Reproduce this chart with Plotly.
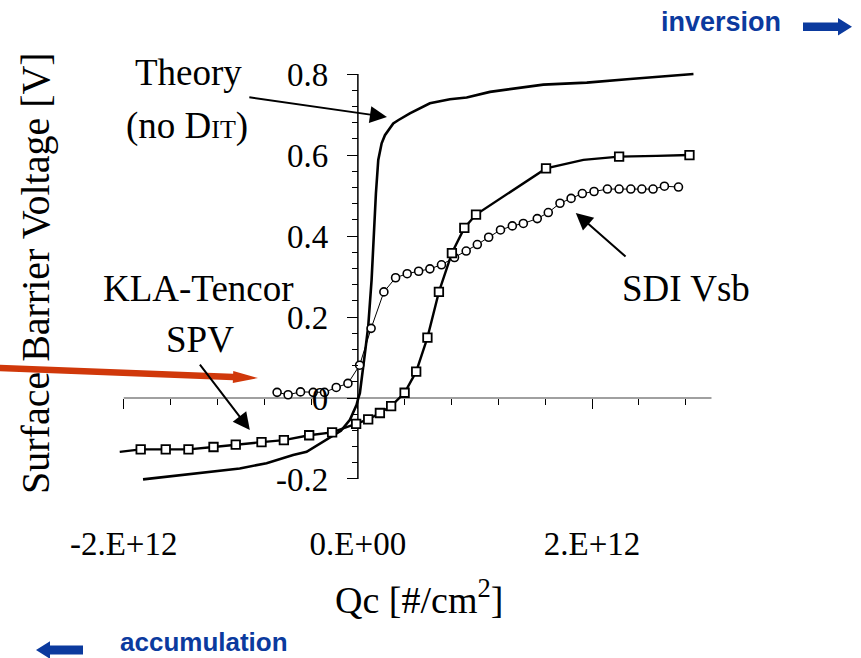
import math
import plotly.graph_objects as go

# ---------------- data ----------------
# Theory curve (no interface traps)
THEORY_Q = [-1.835e12, -1.009e12, -0.780e12, -0.553e12, -0.438e12, -0.297e12, -0.145e12,
            -0.068e12, -0.011e12, 0.003e12, 0.017e12, 0.060e12, 0.088e12, 0.117e12,
            0.131e12, 0.145e12, 0.154e12, 0.174e12, 0.203e12, 0.231e12, 0.302e12,
            0.344e12, 0.444e12, 0.615e12, 0.786e12, 0.929e12, 1.128e12, 1.584e12,
            1.955e12, 2.325e12, 2.866e12]
THEORY_V = [-0.201, -0.174, -0.161, -0.141, -0.133, -0.109, -0.081,
            -0.054, -0.017, -0.001, 0.012, 0.110, 0.176, 0.291,
            0.374, 0.423, 0.505, 0.588, 0.629, 0.649, 0.678,
            0.686, 0.703, 0.728, 0.738, 0.742, 0.756, 0.774,
            0.779, 0.788, 0.800]

# KLA-Tencor SPV: measured points (squares)
KLA_Q = [-1.855e12, -1.641e12, -1.447e12, -1.233e12, -1.043e12, -0.823e12, -0.632e12,
         -0.416e12, -0.220e12, -0.015e12, 0.088e12, 0.188e12, 0.284e12, 0.399e12,
         0.498e12, 0.594e12, 0.692e12, 0.803e12, 0.909e12, 1.009e12, 1.607e12,
         2.231e12, 2.832e12]
KLA_V = [-0.127, -0.127, -0.127, -0.121, -0.115, -0.109, -0.104,
         -0.092, -0.085, -0.064, -0.053, -0.037, -0.020, 0.013,
         0.065, 0.149, 0.262, 0.358, 0.420, 0.453, 0.567,
         0.596, 0.600]
# KLA-Tencor SPV: connecting curve
KLA_CURVE_Q = [-2.034e12] + KLA_Q[:21] + [1.926e12, 2.231e12, 2.553e12, 2.832e12]
KLA_CURVE_V = [-0.133] + KLA_V[:21] + [0.588, 0.596, 0.598, 0.600]

# SDI Vsb (circles)
SDI_Q = [-0.690e12, -0.596e12, -0.490e12, -0.382e12, -0.285e12, -0.185e12, -0.085e12,
         0.015e12, 0.113e12, 0.222e12, 0.322e12, 0.421e12, 0.519e12, 0.615e12,
         0.714e12, 0.825e12, 0.925e12, 1.020e12, 1.117e12, 1.218e12, 1.319e12,
         1.413e12, 1.532e12, 1.626e12, 1.726e12, 1.821e12, 1.917e12, 2.017e12,
         2.131e12, 2.231e12, 2.331e12, 2.425e12, 2.521e12, 2.618e12, 2.738e12]
SDI_V = [0.014, 0.008, 0.015, 0.014, 0.014, 0.026, 0.036,
         0.081, 0.172, 0.262, 0.297, 0.307, 0.313, 0.319,
         0.329, 0.347, 0.363, 0.379, 0.397, 0.415, 0.425,
         0.431, 0.443, 0.458, 0.481, 0.493, 0.505, 0.510,
         0.516, 0.516, 0.516, 0.516, 0.516, 0.523, 0.521]

X_TICKS = [-2e12, 0, 2e12]
X_TICK_TEXT = ["-2.E+12", "0.E+00", "2.E+12"]
Y_TICKS = [-0.2, 0, 0.2, 0.4, 0.6, 0.8]
Y_TICK_TEXT = ["-0.2", "0", "0.2", "0.4", "0.6", "0.8"]

# ---------------- layout geometry ----------------
W, H = 861, 658
L, R, T, B = 112, 146, 68, 177
PW, PH = W - L - R, H - T - B
X_RANGE = [-2.1e12, 3.05e12]
Y_RANGE = [-0.205, 0.815]

SERIF = "Liberation Serif, Times New Roman, serif"
SANS = "Liberation Sans, Arial, sans-serif"
BLUE = "#0B3A9E"
RED = "#D0380A"


def fx(px):
    return (px - L) / PW


def fy(py):
    return (T + PH - py) / PH


def poly(points):
    pts = [f"{fx(x):.5f},{fy(y):.5f}" for x, y in points]
    return "M" + " L".join(pts) + " Z"


def block_arrow(tail, tip, half_shaft, head_len, half_head):
    dx, dy = tip[0] - tail[0], tip[1] - tail[1]
    n = math.hypot(dx, dy)
    ux, uy = dx / n, dy / n
    nx, ny = -uy, ux
    bx, by = tip[0] - ux * head_len, tip[1] - uy * head_len
    return [
        (tail[0] + nx * half_shaft, tail[1] + ny * half_shaft),
        (bx + nx * half_shaft, by + ny * half_shaft),
        (bx + nx * half_head, by + ny * half_head),
        tip,
        (bx - nx * half_head, by - ny * half_head),
        (bx - nx * half_shaft, by - ny * half_shaft),
        (tail[0] - nx * half_shaft, tail[1] - ny * half_shaft),
    ]


fig = go.Figure()

fig.add_trace(go.Scatter(x=THEORY_Q, y=THEORY_V, mode="lines",
                         line=dict(color="black", width=2.6), name="Theory"))
fig.add_trace(go.Scatter(x=KLA_CURVE_Q, y=KLA_CURVE_V, mode="lines",
                         line=dict(color="black", width=2.4), name="KLA-Tencor SPV"))
fig.add_trace(go.Scatter(x=SDI_Q, y=SDI_V, mode="lines+markers", xaxis="x2",
                         line=dict(color="black", width=1),
                         marker=dict(symbol="circle", size=8, color="white",
                                     line=dict(color="black", width=1.6)),
                         name="SDI Vsb"))
fig.add_trace(go.Scatter(x=KLA_Q, y=KLA_V, mode="markers", xaxis="x2",
                         marker=dict(symbol="square", size=8.5, color="white",
                                     line=dict(color="black", width=1.8)),
                         name="KLA-Tencor SPV points"))

x0_pos = (0 - X_RANGE[0]) / (X_RANGE[1] - X_RANGE[0])
y0_pos = (0 - Y_RANGE[0]) / (Y_RANGE[1] - Y_RANGE[0])

tickfont = dict(family=SERIF, size=33, color="black")

shapes = [
    # axis lines crossing at the origin
    dict(type="line", xref="x", yref="y", x0=-2e12, x1=3.02e12, y0=0, y1=0,
         line=dict(color="#808080", width=1.5), layer="below"),
    dict(type="line", xref="x", yref="y", x0=0, x1=0, y0=-0.2, y1=0.8,
         line=dict(color="black", width=1.5), layer="below"),
    # red pointer
    dict(type="path", xref="paper", yref="paper",
         path=poly(block_arrow((-5, 367.8), (258, 378), 3.2, 25, 6)),
         fillcolor=RED, line=dict(width=0), layer="above"),
    # inversion / accumulation arrows
    dict(type="path", xref="paper", yref="paper",
         path=poly(block_arrow((803, 26.8), (852, 26.8), 4.2, 14, 8.8)),
         fillcolor=BLUE, line=dict(width=0), layer="above"),
    dict(type="path", xref="paper", yref="paper",
         path=poly(block_arrow((83, 650), (36, 650), 4.4, 14, 8.8)),
         fillcolor=BLUE, line=dict(width=0), layer="above"),
]

annotations = []


def label(text, px, py, size=37, family=SERIF, color="black", bold=False, angle=0):
    annotations.append(dict(
        text=f"<b>{text}</b>" if bold else text,
        x=fx(px), y=fy(py), xref="paper", yref="paper",
        xanchor="center", yanchor="middle", showarrow=False, textangle=angle,
        borderpad=0, font=dict(family=family, size=size, color=color)))


label("Theory", 188, 72)
label("(no D<span style='font-size:26px'>IT</span>)", 187, 126)
label("KLA-Tencor", 198, 288)
label("SPV", 200, 339)
label("SDI Vsb", 686, 288)
label("inversion", 721, 21.5, size=27, family=SANS, color=BLUE, bold=True)
label("accumulation", 204, 641.5, size=26, family=SANS, color=BLUE, bold=True)
label("Surface Barrier Voltage [V]", 35, 273, size=40, angle=-90)
label("Qc [#/cm<sup>2</sup>]", 419, 597, size=38)

# pointer arrows from labels to curves
for (hx, hy), (tx, ty) in [
    ((0.248e12, 0.694), (-0.940e12, 0.743)),
    ((-0.923e12, -0.079), (-1.359e12, 0.086)),
    ((1.861e12, 0.457), (2.299e12, 0.346)),
]:
    annotations.append(dict(x=hx, y=hy, ax=tx, ay=ty, xref="x", yref="y",
                            axref="x", ayref="y", text="", showarrow=True,
                            arrowhead=2, arrowsize=1.7, arrowwidth=2,
                            arrowcolor="black", standoff=0))

fig.update_layout(
    width=W, height=H,
    margin=dict(l=L, r=R, t=T, b=B, pad=0),
    paper_bgcolor="white", plot_bgcolor="white",
    showlegend=False,
    xaxis=dict(domain=[0, 1], range=X_RANGE, showgrid=False, zeroline=False,
               showline=False, tickmode="array", tickvals=X_TICKS,
               ticktext=X_TICK_TEXT, ticks="", ticklabelstandoff=40,
               tickfont=tickfont, fixedrange=True),
    xaxis2=dict(overlaying="x", range=X_RANGE, anchor="free", position=y0_pos,
                side="bottom", showgrid=False, zeroline=False, showline=False,
                showticklabels=False, tickmode="linear", tick0=0, dtick=2e12,
                ticks="outside", ticklen=10, tickwidth=1.4, tickcolor="black",
                minor=dict(ticks="outside", ticklen=6, tickwidth=1.2,
                           tickcolor="black", tick0=0, dtick=0.4e12),
                fixedrange=True),
    yaxis=dict(range=Y_RANGE, anchor="free", position=x0_pos, showgrid=False,
               zeroline=False, showline=False, tickmode="array",
               tickvals=Y_TICKS, ticktext=Y_TICK_TEXT, ticks="outside",
               ticklen=11, tickwidth=1.4, tickcolor="black",
               ticklabelstandoff=12, tickfont=tickfont,
               minor=dict(ticks="outside", ticklen=6, tickwidth=1.2,
                          tickcolor="black", tick0=0, dtick=0.04),
               fixedrange=True),
    shapes=shapes,
    annotations=annotations,
)

fig.write_html("out.html", config={"displayModeBar": False})
